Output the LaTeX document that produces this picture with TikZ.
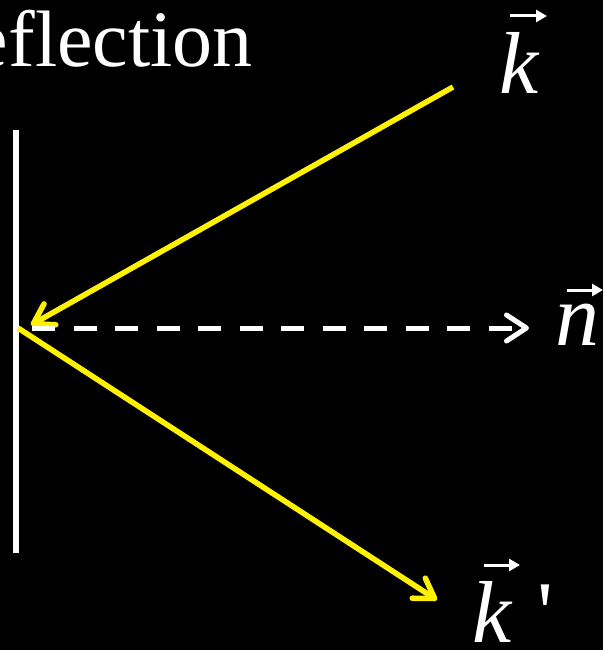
\documentclass[tikz,border=0pt]{standalone}
\usepackage{fontspec}
\setmainfont{Liberation Serif}
\usetikzlibrary{arrows.meta}
\begin{document}
\begin{tikzpicture}[x=1pt,y=-1pt,
  ray/.style={draw=yellow, line width=5.5pt,
    -{Straight Barb[length=19pt,width=24pt,round]}},
  normalline/.style={draw=white, line width=5pt, dash pattern=on 23pt off 18.5pt,
    -{Straight Barb[length=20pt,width=26pt,round]}},
  mirror/.style={draw=white, line width=6pt},
  vecarrow/.style={draw=white, line width=3pt, -{Triangle[length=11pt,width=12pt]}},
  vlabel/.style={text=white, inner sep=0pt, font=\fontsize{88}{96}\selectfont\itshape},
  title/.style={text=white, inner sep=0pt, font=\fontsize{80}{90}\selectfont}]
\useasboundingbox (0,0) rectangle (603,650);
\fill[black] (0,0) rectangle (603,650);
% title
\node[title, anchor=base east] (ttl) at (253,67) {eflection};
% mirror
\coordinate (mtop) at (16,130);
\coordinate (mbot) at (16,553);
\draw[mirror] (mtop) -- (mbot);
% key points
\coordinate (kin) at (453,87);
\coordinate (hitin) at (31,325);
\coordinate (hit) at (18,328);
\coordinate (kout) at (437,600);
\coordinate (dstart) at (32,328);
\coordinate (nend) at (529,328);
% rays
\draw[ray] (kin) -- (hitin);
\draw[ray] (hit) -- (kout);
\draw[normalline] (dstart) -- (nend);
% labels
\node[vlabel, anchor=base] (klab) at (519,94) {k};
\draw[vecarrow] (510,16) -- (547,16);
\node[vlabel, anchor=base] (nlab) at (577,345) {n};
\draw[vecarrow] (567,290) -- (603,290);
\node[vlabel, anchor=base west] (kplab) at (472,642) {k\hspace{26pt}\upshape\textquotesingle};
\draw[vecarrow] (484,565) -- (520,565);
\end{tikzpicture}
\end{document}
